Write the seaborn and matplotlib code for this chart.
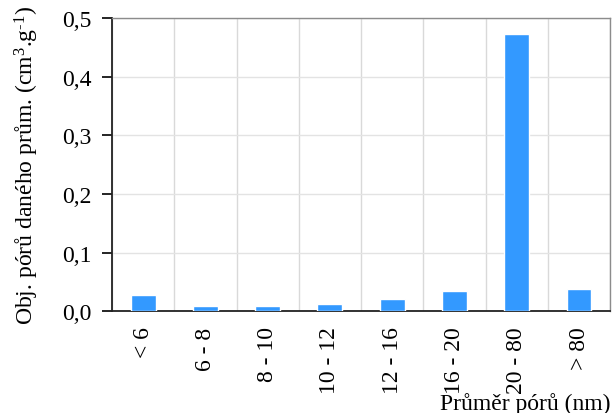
import numpy as np
import pandas as pd
import matplotlib
matplotlib.use("Agg")
import matplotlib.pyplot as plt
import seaborn as sns

sns.set_style("white")
plt.rcParams['font.family'] = ['Liberation Serif', 'DejaVu Serif']
plt.rcParams['mathtext.fontset'] = 'custom'
plt.rcParams['mathtext.rm'] = 'Liberation Serif'
plt.rcParams['mathtext.it'] = 'Liberation Serif:italic'
plt.rcParams['text.color'] = 'black'
plt.rcParams['axes.labelcolor'] = 'black'
plt.rcParams['xtick.color'] = 'black'
plt.rcParams['ytick.color'] = 'black'

categories = ['< 6', '6 - 8', '8 - 10', '10 - 12', '12 - 16', '16 - 20', '20 - 80', '> 80']
volumes = [0.027, 0.009, 0.009, 0.013, 0.021, 0.034, 0.473, 0.038]

df = pd.DataFrame({'range': categories, 'volume': volumes})

fig = plt.figure(figsize=(6.12, 4.14), dpi=100)
ax = fig.add_axes([0.183, 0.246, 0.814, 0.708])

sns.barplot(data=df, x='range', y='volume', color='#3399ff', saturation=1,
            width=0.4, ax=ax, zorder=3)

ax.set_xlim(-0.5, len(categories) - 0.5)
ax.set_ylim(0, 0.5)
ax.set_yticks(np.arange(0, 0.51, 0.1))
ax.set_yticklabels([f'{v:.1f}'.replace('.', ',') for v in np.arange(0, 0.51, 0.1)])

# labels centred under bars, tick marks and grid at category borders
ax.set_xticks(range(len(categories)))
ax.set_xticklabels(categories, rotation=90)
ax.set_xticks(np.arange(-0.5, len(categories)), minor=True)
ax.tick_params(axis='x', which='major', length=0, labelsize=17, pad=11)
ax.tick_params(axis='x', which='minor', length=7, width=1.2, color='black', direction='out')
ax.tick_params(axis='y', length=7, width=1.2, color='black', direction='out',
               labelsize=17, left=True, pad=8)
ax.grid(axis='x', which='minor', color='#d9d9d9', linewidth=1, zorder=0)
ax.grid(axis='y', which='major', color='#e3e3e3', linewidth=1, zorder=0)

for s in ['left', 'bottom']:
    ax.spines[s].set_color('#222222')
    ax.spines[s].set_linewidth(1.3)
for s in ['top', 'right']:
    ax.spines[s].set_color('#8c8c8c')
    ax.spines[s].set_linewidth(1.0)

ax.set_xlabel('')
ax.set_ylabel('Obj. pórů daného prům. (cm$^3$.g$^{\\mathrm{\u2010}1}$)', fontsize=17, labelpad=15)
fig.text(0.998, 0.009, 'Průměr pórů (nm)', ha='right', va='baseline', fontsize=17)

fig.savefig('out.png', dpi=100)
